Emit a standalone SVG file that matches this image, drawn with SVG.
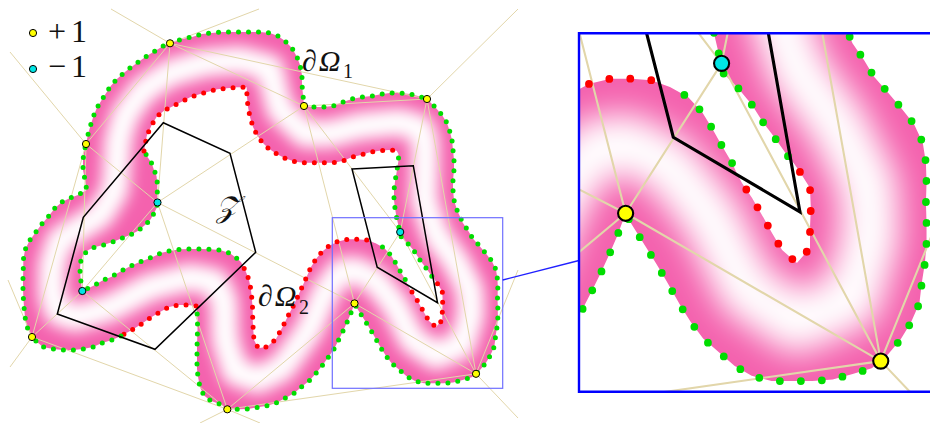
<svg xmlns="http://www.w3.org/2000/svg" xmlns:xlink="http://www.w3.org/1999/xlink" width="930" height="423" viewBox="0 0 930 423">
<style>
.tri{fill:none;stroke:#e2d6aa;stroke-width:1}
.dots path{fill:none;stroke-linecap:round;stroke-dasharray:0 10}
.g{stroke:#00dd00}
.r{stroke:#ff0000}
.poly{fill:none;stroke:#000;stroke-width:1.5;stroke-linejoin:miter}
.py{fill:#ffff00;stroke:#000;stroke-width:1}
.pc{fill:#00e5e5;stroke:#000;stroke-width:1}
.lbl{font-family:"Liberation Serif","DejaVu Serif",serif;fill:#111}
</style>
<defs>
<filter id="blur" x="-20%" y="-20%" width="140%" height="140%"><feGaussianBlur stdDeviation="7.5"/></filter>
<clipPath id="bandClip"><path clip-rule="evenodd" d="M170,43.3 L182,39 192,37 202,34 212,33 222,32 232,32 240,32 250,32 260,32 270,33 278,36 285,41 292,48 297,57 300,65 302,75 302,85 303,95 304,106 313,107 323,107 333,106 343,102 352,99 362,97 372,96 382,94 390,93 400,93 410,94 418,96 427,99 435,107 442,115 447,123 450,132 452,140 453,150 454,160 454,170 453,180 453,190 454,200 457,210 462.6,222.5 468,230.4 472.8,238.4 479.1,245.5 485.5,253 491.8,260.9 496,269.8 497.5,279.3 497.8,288.8 497.5,298.4 497.8,308 497.8,317.7 497,327.2 495.5,336.7 494.4,346.3 490.3,355.5 485.5,363.4 479.6,370.4 476,373.8 471.7,377.2 462.6,379.9 453.1,382.5 443.4,383.3 433.6,383.3 424,383.3 414.5,380.8 406.3,376 399.2,369.8 391.4,363 385.6,355.3 380.7,347.6 376,339.2 371.2,330.9 366.4,323 361.6,315.4 356.9,307.9 354.5,303.4 350.5,314.2 346.6,323.3 342.6,332 338.3,340.7 334,349 328.5,357 322.7,365 316,373.3 309.3,380.7 301.7,386.7 294,393.3 286,397.7 276.7,402.7 267.3,405.7 257.7,407.3 248,409 238.3,409.3 227.3,409.3 220,404 211,401 204,395.5 200,387.3 198.3,378.3 197,369.3 197,360 197,350 197.2,340 197.5,330 197.5,320 197,310 196,306 188,305 178,305 169,307 160,312 150,318 140,325 130,331 121,336 112,340 102,343 93,347 83,349 73,350 63,350 53,349 43,347 37,342 32,337 27,327 25,317 24,307 23.3,297 23,288 23,279 23.3,269 23.3,260 25,250 29.3,241 35,233.3 41,225 48,217 55,208 62,202 70,198 78,195 86.7,190 85,180 83,170 83,160 84,152 86,144 88.3,133.3 90.7,125 93.3,116.7 96.7,108.3 101.7,100 106,93.3 110.7,86 116.7,79.3 124,72.7 131.7,66.7 140,60.7 148.3,55 156.7,50 163,46 Z M157.5,202 L157.3,193 157.3,183 156.5,176 154,170 151.7,163.3 147.5,157 144,151 146.7,136 151.7,125 156.7,116.7 164,110.7 173.3,106 181.7,101.7 190,97.3 199.3,94.3 208.3,91.7 217.3,89.3 226.7,88.3 236.7,87.3 246.7,87.3 247,97 248,107 250,117 253,127 257,135 261.7,141.7 268.3,148.3 276.7,154 285,158.3 295,161.7 304,162.7 314,162.7 324,162.7 334,162.7 343.3,160.7 351.7,157.3 360.7,155 370,152.3 379.3,150.7 388.3,150 396.7,150.7 398.5,154 398.3,161.7 396.7,171.7 395,181.7 394,190 394,200 395,208.3 396.7,218.3 398.3,225 400,232.3 400.9,236.6 408,243.7 414.7,251.8 419.9,260 425.6,267.6 431.3,275.6 434.5,279.5 437.5,283.7 442.3,291.4 442.7,300.9 442.3,310.4 442.3,319.9 436.1,327.1 429,320.9 424.2,312.8 419.4,304.2 414.7,296.1 409.9,289 407.5,284.5 405.2,279.5 400.4,271.4 395.6,262.8 390.9,255.2 384.2,248 375.6,243.3 366.7,240 357.3,239.3 347.3,239.3 337.3,241.7 329,246 321.7,252 316,259 311,267 307,276 303,285 298,296 292.7,307 287,318 282,328 276,339 267,346.7 258.3,348.3 254,340 253.3,330 252.7,320 252.7,310 252,300 251,290 249,280 246,272 241,262 236.7,258.3 230,253.3 220,250 210,249.3 200,249 190.7,249 180.7,249.3 170.7,250.7 161.7,252.7 153.3,256.7 145,260 136.7,263.3 128.3,267.3 120,271.7 111.7,276.7 103.3,280 95,285 88.3,288.3 82.3,291 80.7,280 80,270 80.5,262 83.3,255 88.3,250 95,247 103.3,245 113.3,241.7 121.7,238.3 130,235 138.3,230.7 145,225 150.7,219.3 154,213.3 156.7,208 Z"/></clipPath>
<clipPath id="insetClip"><rect x="579" y="33.3" width="360" height="358.4"/></clipPath>
<g id="scene">
  <g clip-path="url(#bandClip)">
    <rect x="0" y="0" width="520" height="423" fill="#f462ae"/>
    <path d="M117,160 L115,190 100,215 60,240 52,265 52,295 58,312 75,318 110,308 150,287 190,277 215,282 224,300 225,340 235,372 258,380 282,368 309,330 325,292 340,272 355,270 375,280 395,305 412,340 436,356 462,345 471,315 470,290 456,262 436,235 424,200 425,170 425,140 420,128 400,122 360,126 330,134 305,134 280,110 275,91 270,68 240,60 205,63 170,73 143,90 125,115 118,140 Z" fill="none" stroke="#fff" stroke-width="28" stroke-linejoin="round" filter="url(#blur)"/>
  </g>
  <path class="tri" d="M170,43.3 L111,9 M170,43.3 L259,9 M170,43.3 L86,144 M170,43.3 L304,106 M170,43.3 L427,99 M170,43.3 L157.5,202.5 M86,144 L10,52 M86,144 L157.5,202.5 M86,144 L32,337 M86,144 L82.3,291 M157.5,202.5 L82.3,291 M157.5,202.5 L304,106 M157.5,202.5 L354.5,303.4 M157.5,202.5 L227.3,409.3 M82.3,291 L32,337 M82.3,291 L227.3,409.3 M32,337 L8,280 M32,337 L10,367 M32,337 L227.3,409.3 M227.3,409.3 L354.5,303.4 M227.3,409.3 L476,373.8 M227.3,409.3 L200,423 M227.3,409.3 L260,423 M304,106 L427,99 M304,106 L400.2,232 M304,106 L354.5,303.4 M427,99 L518,9 M427,99 L400.2,232 M427,99 L476,373.8 M400.2,232 L354.5,303.4 M400.2,232 L476,373.8 M354.5,303.4 L476,373.8 M476,373.8 L518,270 M476,373.8 L518,418"/>
  <g class="dots">
    <path class="g" d="M170,43.3 L182,39 192,37 202,34 212,33 222,32 232,32 240,32 250,32 260,32 270,33 278,36 285,41 292,48 297,57 300,65 302,75 302,85 303,95 304,106"/>
    <path class="g" d="M304,106 L313,107 323,107 333,106 343,102 352,99 362,97 372,96 382,94 390,93 400,93 410,94 418,96 427,99"/>
    <path class="g" d="M427,99 L435,107 442,115 447,123 450,132 452,140 453,150 454,160 454,170 453,180 453,190 454,200 457,210 462.6,222.5 468,230.4 472.8,238.4 479.1,245.5 485.5,253 491.8,260.9 496,269.8 497.5,279.3 497.8,288.8 497.5,298.4 497.8,308 497.8,317.7 497,327.2 495.5,336.7 494.4,346.3 490.3,355.5 485.5,363.4 479.6,370.4 476,373.8"/>
    <path class="g" d="M476,373.8 L471.7,377.2 462.6,379.9 453.1,382.5 443.4,383.3 433.6,383.3 424,383.3 414.5,380.8 406.3,376 399.2,369.8 391.4,363 385.6,355.3 380.7,347.6 376,339.2 371.2,330.9 366.4,323 361.6,315.4 356.9,307.9 354.5,303.4"/>
    <path class="g" d="M354.5,303.4 L350.5,314.2 346.6,323.3 342.6,332 338.3,340.7 334,349 328.5,357 322.7,365 316,373.3 309.3,380.7 301.7,386.7 294,393.3 286,397.7 276.7,402.7 267.3,405.7 257.7,407.3 248,409 238.3,409.3 227.3,409.3"/>
    <path class="g" d="M227.3,409.3 L220,404 211,401 204,395.5 200,387.3 198.3,378.3 197,369.3 197,360 197,350 197.2,340 197.5,330 197.5,320 197,310 196,306"/>
    <path class="r" d="M196,306 L188,305 178,305 169,307 160,312 150,318 140,325 130,331 121,336"/>
    <path class="g" d="M121,336 L112,340 102,343 93,347 83,349 73,350 63,350 53,349 43,347 37,342 32,337"/>
    <path class="g" d="M32,337 L27,327 25,317 24,307 23.3,297 23,288 23,279 23.3,269 23.3,260 25,250 29.3,241 35,233.3 41,225 48,217 55,208 62,202 70,198 78,195 86.7,190 85,180 83,170 83,160 84,152 86,144"/>
    <path class="g" d="M86,144 L88.3,133.3 90.7,125 93.3,116.7 96.7,108.3 101.7,100 106,93.3 110.7,86 116.7,79.3 124,72.7 131.7,66.7 140,60.7 148.3,55 156.7,50 163,46 170,43.3"/>
    <path class="g" d="M157.5,202 L157.3,193 157.3,183 156.5,176 154,170 151.7,163.3 147.5,157 144,151"/>
    <path class="r" d="M144,151 L146.7,136 151.7,125 156.7,116.7 164,110.7 173.3,106 181.7,101.7 190,97.3 199.3,94.3 208.3,91.7 217.3,89.3 226.7,88.3 236.7,87.3 246.7,87.3 247,97 248,107 250,117 253,127 257,135 261.7,141.7 268.3,148.3 276.7,154 285,158.3 295,161.7 304,162.7 314,162.7 324,162.7 334,162.7 343.3,160.7 351.7,157.3 360.7,155 370,152.3 379.3,150.7 388.3,150 396.7,150.7"/>
    <path class="g" d="M398.5,158 L398.3,161.7 396.7,171.7 395,181.7 394,190 394,200 395,208.3 396.7,218.3 398.3,225 400,232.3 400.9,236.6 408,243.7 414.7,251.8 419.9,260 425.6,267.6 431.3,275.6 434.5,279.5"/>
    <path class="r" d="M437.5,283.7 L442.3,291.4 442.7,300.9 442.3,310.4 442.3,319.9 436.1,327.1 429,320.9 424.2,312.8 419.4,304.2 414.7,296.1 409.9,289"/>
    <path class="g" d="M405.2,279.5 L400.4,271.4 395.6,262.8 390.9,255.2 384.2,248 375.6,243.3"/>
    <path class="r" d="M366.7,240 L357.3,239.3 347.3,239.3 337.3,241.7 329,246 321.7,252 316,259 311,267 307,276 303,285 298,296 292.7,307 287,318 282,328 276,339 267,346.7 258.3,348.3 254,340 253.3,330 252.7,320 252.7,310 252,300 251,290 249,280 246,272 241,262"/>
    <path class="g" d="M236.7,258.3 L230,253.3 220,250 210,249.3 200,249 190.7,249 180.7,249.3 170.7,250.7 161.7,252.7 153.3,256.7 145,260 136.7,263.3 128.3,267.3 120,271.7 111.7,276.7 103.3,280 95,285 88.3,288.3 82.3,291"/>
    <path class="g" d="M82.3,291 L80.7,280 80,270 80.5,262 83.3,255 88.3,250 95,247 103.3,245 113.3,241.7 121.7,238.3 130,235 138.3,230.7 145,225 150.7,219.3 154,213.3 156.7,208 157.5,202"/>
  </g>
  <path class="poly" d="M163.3,122.7 L230,153.3 255.7,252.3 155,349.3 57.3,314 83.3,217.3 Z"/>
  <path class="poly" d="M352,169 L413.3,165.7 437.5,302.7 377.2,267.2 Z"/>
  <circle class="py" cx="170" cy="43.3" r="3.6"/>
  <circle class="py" cx="304" cy="106" r="3.6"/>
  <circle class="py" cx="427" cy="99" r="3.6"/>
  <circle class="py" cx="86" cy="144" r="3.6"/>
  <circle class="py" cx="32" cy="337" r="3.6"/>
  <circle class="py" cx="227.3" cy="409.3" r="3.6"/>
  <circle class="py" cx="354.5" cy="303.4" r="3.6"/>
  <circle class="py" cx="476" cy="373.8" r="3.6"/>
  <circle class="pc" cx="157.5" cy="202.5" r="3.6"/>
  <circle class="pc" cx="82.3" cy="291" r="3.6"/>
  <circle class="pc" cx="400.2" cy="232" r="3.6"/>
</g>
</defs>
<rect x="0" y="0" width="930" height="423" fill="#fff"/>
<use xlink:href="#scene" href="#scene" stroke-width="5"/>
<text class="lbl" x="302" y="71" font-size="30" letter-spacing="2">∂<tspan font-style="italic">Ω</tspan></text>
<text class="lbl" x="343" y="78" font-size="20">1</text>
<text class="lbl" x="258" y="306" font-size="30" letter-spacing="2">∂<tspan font-style="italic">Ω</tspan></text>
<text class="lbl" x="299" y="314" font-size="20">2</text>
<text class="lbl" x="216" y="217" font-size="30" font-style="italic" style="font-family:'DejaVu Serif','DejaVu Sans',serif">𝒵</text>
<rect x="332.3" y="217.7" width="170.4" height="170.6" fill="none" stroke="#6f6fff" stroke-width="1.2"/>
<line x1="502.7" y1="280" x2="579" y2="260.5" stroke="#2020ff" stroke-width="1.3"/>
<g clip-path="url(#insetClip)">
  <rect x="579" y="33.3" width="360" height="358.4" fill="#fff"/>
  <use xlink:href="#scene" href="#scene" stroke-width="3.7" transform="translate(579,33.3) scale(2.1) translate(-332.3,-217.7)"/>
</g>
<path d="M931,33.3 L579,33.3 L579,391.7 L931,391.7" fill="none" stroke="#0000ff" stroke-width="2.4"/>
<g id="legend">
  <circle class="py" cx="33" cy="33" r="3.6"/>
  <text class="lbl" x="48" y="42" font-size="32" textLength="39" lengthAdjust="spacing">+1</text>
  <circle class="pc" cx="33" cy="69" r="3.6"/>
  <text class="lbl" x="48" y="77" font-size="32" textLength="39" lengthAdjust="spacing">−1</text>
</g>
</svg>
